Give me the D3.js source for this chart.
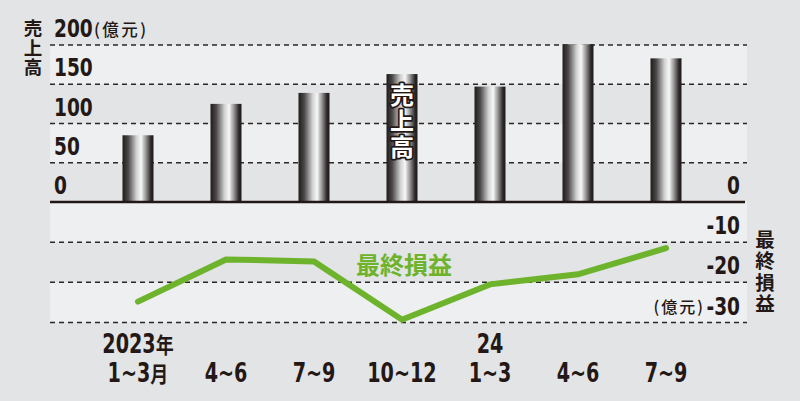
<!DOCTYPE html>
<html><head><meta charset="utf-8">
<script src="https://cdn.jsdelivr.net/npm/d3@7"></script>
<style>
html,body{margin:0;padding:0;background:#e3e4e5;}
svg{display:block;}
text{font-family:"Liberation Sans Narrow","DejaVu Sans Condensed","Noto Sans CJK JP",sans-serif;font-weight:bold;fill:#231815;}
.cjk{font-family:"Noto Sans CJK JP",sans-serif;font-weight:bold;}
.unit{font-family:"Noto Sans CJK JP",sans-serif;font-weight:500;}
</style></head>
<body>
<script>
const periods = ["1~3月","4~6","7~9","10~12","1~3","4~6","7~9"];
const years = ["2023年","","","","24","",""];
const sales = [85,125,139,163,147,201,183];
const profit = [-24.8,-14.3,-14.8,-29.3,-20.5,-18,-11.5];
const salesTicks = [0,50,100,150,200];
const profitTicks = [0,-10,-20,-30];

const W=800,H=401;
const svg=d3.select("body").append("svg").attr("width",W).attr("height",H);
svg.append("rect").attr("width",W).attr("height",H).attr("fill","#e3e4e5");

const plotL=50, plotR=747;
const x=d3.scaleBand().domain(d3.range(periods.length)).range([94,710]).paddingInner(0).paddingOuter(0);
const cx=i=>x(i)+x.bandwidth()/2;
const yS=d3.scaleLinear().domain([0,200]).range([202,45]);
const yP=d3.scaleLinear().domain([0,-30]).range([202,322.5]);

const defs=svg.append("defs");
const g=defs.append("linearGradient").attr("id","barg").attr("x1","0").attr("x2","1").attr("y1","0").attr("y2","0");
[[0,"#1f1b1b"],[0.18,"#4a4646"],[0.45,"#d0d0d0"],[0.6,"#f8f8f8"],[0.75,"#9a9898"],[0.92,"#2a2626"],[1,"#1f1b1b"]]
 .forEach(s=>g.append("stop").attr("offset",s[0]).attr("stop-color",s[1]));

// bands
const bandLight="#eeeff0";
[[200,150],[100,50]].forEach(b=>svg.append("rect").attr("x",plotL).attr("width",plotR-plotL)
  .attr("y",yS(b[0])).attr("height",yS(b[1])-yS(b[0])).attr("fill",bandLight));
[[0,-10],[-20,-30]].forEach(b=>svg.append("rect").attr("x",plotL).attr("width",plotR-plotL)
  .attr("y",yP(b[0])).attr("height",yP(b[1])-yP(b[0])).attr("fill",bandLight));

// gridlines
const grid=svg.append("g").attr("stroke","#2b2727").attr("stroke-width",1.5).attr("stroke-dasharray","5,4");
salesTicks.filter(d=>d>0).forEach(d=>grid.append("line").attr("x1",plotL).attr("x2",plotR).attr("y1",yS(d)).attr("y2",yS(d)));
profitTicks.filter(d=>d<0).forEach(d=>grid.append("line").attr("x1",plotL).attr("x2",plotR).attr("y1",yP(d)).attr("y2",yP(d)));

// bars
const bw=31;
svg.append("g").selectAll("rect").data(sales).join("rect")
  .attr("x",(d,i)=>cx(i)-bw/2).attr("width",bw)
  .attr("y",d=>yS(d)).attr("height",d=>yS(0)-yS(d))
  .attr("fill","url(#barg)");

// axis line
svg.append("line").attr("x1",plotL).attr("x2",plotR-2).attr("y1",yS(0)).attr("y2",yS(0))
  .attr("stroke","#231815").attr("stroke-width",2.5);

// condensed text helper
function ntext(parent,px,py,size,anchor,sx){
  return parent.append("text").attr("transform",`translate(${px},${py}) scale(${sx},1)`)
    .attr("font-size",size).attr("text-anchor",anchor);
}

// left ticks
const lt=svg.append("g");
salesTicks.forEach(d=>ntext(lt,54,yS(d)-8,24,"start",0.86).text(d));
svg.append("text").attr("class","unit").attr("x",94).attr("y",36).attr("font-size",16.5).attr("letter-spacing",2.5).text("(億元)");

// right ticks
const rt=svg.append("g");
profitTicks.forEach(d=>ntext(rt,740,yP(d)-8,24,"end",0.86).text(d));
svg.append("text").attr("class","unit").attr("x",705).attr("y",313).attr("text-anchor","end").attr("font-size",16).attr("letter-spacing",2).text("(億元)");

// vertical titles (single vertical text each)
svg.append("text").attr("class","cjk").attr("writing-mode","tb").style("writing-mode","vertical-rl")
  .attr("x",33).attr("y",19).attr("font-size",18.5).attr("letter-spacing",1).text("売上高");
svg.append("text").attr("class","cjk").attr("writing-mode","tb").style("writing-mode","vertical-rl")
  .attr("x",765).attr("y",230).attr("font-size",19.5).attr("letter-spacing",1.8).text("最終損益");

// bar label
svg.append("text").attr("class","cjk").attr("writing-mode","tb").style("writing-mode","vertical-rl")
  .attr("x",cx(3)).attr("y",83).attr("font-size",24).attr("letter-spacing",2)
  .style("fill","#fff").attr("stroke","#231815").attr("stroke-width",3.5)
  .attr("paint-order","stroke").attr("stroke-linejoin","round").text("売上高");

// line
const line=d3.line().x((d,i)=>cx(i)).y(d=>yP(d));
svg.append("path").datum(profit).attr("d",line).attr("fill","none").attr("stroke","#6db32c")
  .attr("stroke-width",6).attr("stroke-linecap","round").attr("stroke-linejoin","miter");
svg.append("text").attr("class","cjk").attr("x",404).attr("y",263).attr("dominant-baseline","central")
  .attr("text-anchor","middle").attr("font-size",24).style("fill","#6db32c").text("最終損益");

// x labels
const xl=svg.append("g");
function label(str,i,py){
  const m=str.match(/^([^月年]*)([月年]?)$/);
  const t=ntext(xl,cx(i),py,26,"middle",0.82);
  t.append("tspan").text(m[1]);
  if(m[2]) t.append("tspan").attr("class","cjk").attr("font-size",22).text(m[2]);
}
periods.forEach((d,i)=>label(d,i,382));
years.forEach((d,i)=>{ if(d) label(d,i,353); });
</script>
</body></html>
